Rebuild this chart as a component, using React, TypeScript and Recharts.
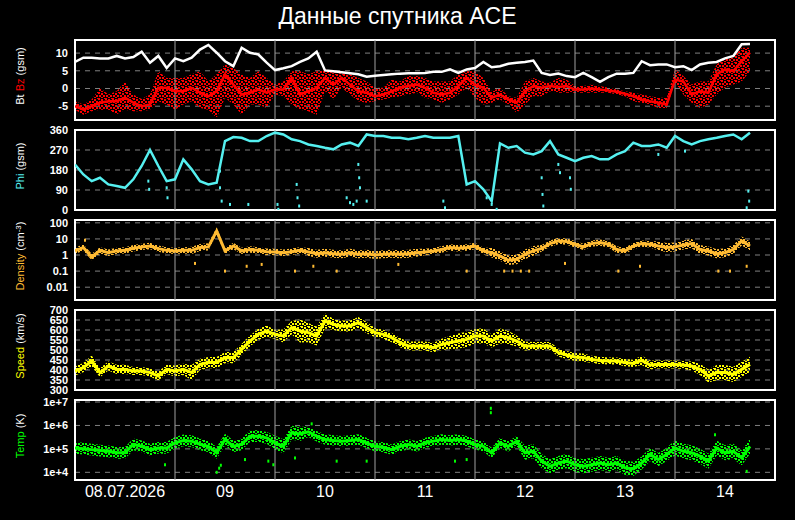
import React from 'react';
import {
  ComposedChart,
  Line,
  Area,
  Scatter,
  XAxis,
  YAxis,
  CartesianGrid,
  ReferenceLine,
  ReferenceArea,
} from 'recharts';

// ---------- time axis (hours since 08.07.2026 00:00) ----------
const hours = [
  0, 2, 4, 6, 8, 10, 12, 14, 16, 18, 20, 22, 24, 26, 28, 30, 32, 34, 36, 38, 40,
  42, 44, 46, 48, 50, 52, 54, 56, 58, 60, 62, 64, 66, 68, 70, 72, 74, 76, 78, 80,
  82, 84, 86, 88, 90, 92, 94, 96, 98, 100, 102, 104, 106, 108, 110, 112, 114,
  116, 118, 120, 122, 124, 126, 128, 130, 132, 134, 136, 138, 140, 142, 144, 146,
  148, 150, 152, 154, 156, 158, 160, 162,
];
const dayLineHours = [24, 48, 72, 96, 120, 144];
const dayTickHours = [12, 36, 60, 84, 108, 132, 156];
const dayLabels = ['08.07.2026', '09', '10', '11', '12', '13', '14'];

// ---------- magnetic field (nT) ----------
const btValues = [
  7.5, 8.7, 8.7, 8.5, 8.5, 9.2, 8.5, 8.9, 10.4, 7.3, 9.2, 5.8, 8.5, 7.7, 8.7, 11.0,
  12.3, 10.1, 7.7, 6.3, 11.5, 10.1, 9.6, 7.3, 5.2, 5.7, 6.3, 7.5, 8.5, 10.4, 5.1,
  4.9, 4.6, 4.3, 4.0, 3.3, 3.6, 3.8, 4.0, 4.2, 4.3, 4.3,
  4.4, 4.7, 4.7, 5.4, 4.4, 5.4, 5.8, 7.5, 6.0, 6.3, 7.0, 7.3, 7.5, 7.9, 4.4, 3.8,
  4.2, 3.5, 3.2, 4.4, 3.2, 1.9, 3.2, 4.2, 4.2, 4.4, 7.7, 6.6, 6.8, 6.8, 6.0, 6.3,
  5.2, 6.8, 7.3, 7.5, 8.5, 9.2, 12.5, 12.6,
];
const bzValues = [
  -5, -6, -5, -4, -3.6, -3.6, -2.6, -4, -5, -4.5, 0.2, 0.2, -0.8, -0.8, 0.2, -1.2,
  -2.2, -0.8, 4, 1.1, -1.7, -1.2, -0.3, -1.2, -0.3, -0.3, 3, -1.7, -0.8, 0.2, 3,
  1.1, 3, 1.1, -0.8, -1.2, -2.2, -1.7, -0.8, 0.2, 0.7, 1.1,
  0.2, -1.2, -1.7, -1.2, 0.7, 3, 1.1, 0.2, -2.6, -1.7, -3.1, -4, -0.8, 0.7, 0.2,
  0.7, 0.4, 0.7, -0.3, -0.3, 0, -0.3, -0.6, -0.9, -1.5, -2.2, -3.1, -3.6, -4, -4.5,
  2.5, 2, -1.7, -0.8, -1.2, 4, 5.4, 4.9, 7.7, 10.1,
];
const bzLow = [
  -6, -7.4, -6.4, -6, -6, -7.3, -6, -6.4, -6.4, -6, -3.6, -4.5, -6, -4.5, -3.6,
  -5.5, -6, -8.3, -2.6, -4.5, -7.4, -4.5, -4.5, -5.5, -1.7, -2.2, -4.5, -6, -6.4,
  -7.4, -0.8, -3.1, 0.2, -1.7, -3.6, -4, -3.6, -3.1, -2.6, -2.2, -1.7, -1.2,
  -2.6, -3.1, -4, -3.1, -1.7, 0.2, -2.6, -4.5, -4, -3.1, -4.5, -6.9, -4.5, -2.2,
  -2.2, -0.8, -1.2, -1.2, -1.2, -1.2, -1.2, -1.2, -1.2, -1.7, -2.2, -3.6, -4, -4.5,
  -5.5, -5.5, 1.6, -1.7, -4, -5.5, -4.5, -1.7, 0.2, 1.1, 2, 4.9,
];
const bzHigh = [
  -3.6, -4.5, -3.1, 0.2, -1.7, -0.8, 2, -1.7, -3, -1.7, 4.9, 3, 3, 3, 4, 4.9, 2, 4,
  6.8, 5.8, 4, 3, 4.9, 3, 1.1, 2, 4.9, 4.9, 4, 4.9, 5.4, 4.9, 4.9, 4, 3, 2, 0.2,
  0.2, 2.5, 2, 3.5, 3.5,
  3, 2, 2, 2, 4, 4.9, 4.9, 3, -0.8, 0.2, -2.2, -2.6, 2, 3, 2, 1.6, 3, 2.5, 0.7, 0.7,
  1.1, 0.7, 0.2, -0.3, -0.8, -1.2, -1.7, -2.2, -2.6, -2.6, 5.4, 3.5, 1.1, 2, 2, 6.8,
  8.7, 8.7, 11.5, 11.5,
];

// ---------- Phi (deg) ----------
const phiValues = [
  205, 160, 130, 145, 115, 108, 100, 138, 198, 270, 198, 130, 138, 228, 183, 130,
  115, 123, 310, 328, 325, 310, 310, 333, 348, 340, 318, 310, 295, 288, 280, 273,
  295, 303, 288, 340, 333, 333, 325, 325, 318, 325,
  333, 325, 325, 325, 333, 115, 130, 93, 40, 300, 280, 288, 258, 250, 265, 310,
  250, 235, 220, 235, 243, 228, 228, 250, 265, 303, 288, 288, 295, 280, 333, 310,
  295, 310, 318, 325, 333, 340, 318, 348,
];
const phiStrayHours = [
  17.6, 17.8, 22, 22.2, 34.8, 34.8, 35.2, 37.2, 41.6, 48.6, 48.8, 53.2, 53.4, 53.8,
  65.2, 66, 66.8, 67.6, 68, 68.2, 68.4, 70, 88.4, 88.8, 98.8, 100, 101.2, 112,
  112.2, 112.4, 116, 116.4, 118.8, 119, 140, 146.4, 161.2, 161.6, 161.8,
];
const phiStrayValues = [
  130, 93, 100, 55, 175, 100, 40, 25, 25, 25, 3, 115, 55, 18, 55, 33, 25, 40, 205,
  145, 100, 40, 40, 10, 55, 25, 3, 145, 70, 18, 205, 168, 145, 93, 250, 265, 10,
  85, 40,
];

// ---------- Density (cm^-3) ----------
const densityValues = [
  1.8, 2.9, 0.75, 1.95, 1.4, 1.8, 1.95, 2.6, 3.2, 3.6, 2.5, 1.95, 1.8, 1.95, 1.95,
  2.9, 3.2, 31, 1.8, 3.6, 1.8, 2.2, 1.95, 1.6, 1.55, 1.4, 1.6, 1.95, 1.55, 1.2,
  1.4, 1.2, 1.1, 1.4, 1.1, 1.2, 1.0, 1.1, 1.2, 1.1, 1.2, 1.4,
  1.55, 1.8, 2.2, 2.9, 2.6, 2.9, 3.6, 1.8, 1.4, 0.87, 0.47, 0.54, 1.1, 1.8, 2.6,
  5.1, 7.5, 6.8, 4.7, 3.2, 5.1, 5.9, 4.7, 2.2, 1.8, 3.6, 5.1, 4.7, 3.6, 2.9, 3.2,
  4.2, 5.1, 2.2, 1.8, 1.2, 1.4, 2.2, 7.5, 3.6,
];
// half-width of the point cloud, in decades
const densitySpread = [
  0.2, 0.2, 0.2, 0.2, 0.2, 0.2, 0.2, 0.2, 0.2, 0.2, 0.2, 0.2, 0.2, 0.2,
  0.22, 0.22, 0.22, 0.22,
  0.2, 0.2, 0.2, 0.2, 0.2, 0.2, 0.2, 0.2, 0.2, 0.2,
  0.25, 0.25, 0.25, 0.25, 0.25, 0.25, 0.25, 0.25, 0.25, 0.25, 0.25, 0.25, 0.25, 0.25,
  0.2, 0.2, 0.2, 0.2, 0.2, 0.2, 0.2, 0.2,
  0.3, 0.3, 0.3, 0.3, 0.3, 0.3,
  0.2, 0.2, 0.2, 0.2, 0.2, 0.2, 0.2, 0.2, 0.2, 0.2, 0.2, 0.2, 0.2, 0.2,
  0.28, 0.28, 0.28, 0.28, 0.28, 0.28, 0.28, 0.28, 0.28, 0.28, 0.28, 0.28,
];
const densityStrayHours = [
  2.4, 28.8, 36, 41.2, 44.8, 52.8, 57.2, 62.8, 77.6, 94, 103, 105, 107, 109, 117.6,
  130.4, 135.6, 154.4, 157.2, 161.2,
];
const densityStrayValues = [
  8.3, 0.3, 0.1, 0.2, 0.26, 0.1, 0.2, 0.1, 0.26, 0.1, 0.1, 0.1, 0.1, 0.1, 0.3, 0.1,
  0.2, 0.1, 0.1, 0.2,
];

// ---------- Speed (km/s) ----------
const speedValues = [
  395, 412, 445, 387, 420, 403, 403, 395, 395, 387, 370, 403, 395, 403, 387, 428,
  437, 437, 462, 462, 503, 545, 578, 595, 578, 570, 612, 595, 587, 570, 645, 628,
  620, 620, 637, 612, 587, 578, 562, 537, 520, 520,
  520, 512, 528, 537, 545, 553, 570, 570, 545, 570, 562, 545, 520, 520, 520, 520,
  487, 475, 465, 462, 453, 448, 445, 445, 437, 433, 448, 425, 428, 428, 428, 425,
  420, 403, 370, 387, 387, 378, 403, 428,
];
// half-width of the point cloud, km/s
const speedSpread = [
  23, 23, 28, 23, 23, 23, 23, 20, 20, 20, 23, 23, 28, 28, 38, 28, 28, 28, 28, 28,
  28, 28, 28, 28, 23, 33, 33, 58, 48, 48, 38, 28, 28, 28, 28, 28, 23, 23, 23, 23,
  23, 23,
  23, 23, 28, 33, 38, 38, 38, 38, 33, 38, 33, 28, 23, 20, 20, 20, 20, 20, 20, 20,
  18, 18, 18, 18, 18, 18, 23, 23, 20, 20, 20, 20, 23, 28, 33, 38, 38, 38, 38, 38,
];

// ---------- Temperature (K) ----------
const tempValues = [
  110000, 102000, 93000, 85000, 79000, 68000, 68000, 155000, 129000, 93000,
  110000, 110000, 182000, 229000, 214000, 155000, 129000, 68000, 251000, 129000,
  155000, 347000, 347000, 295000, 182000, 129000, 490000, 437000, 537000, 347000,
  251000, 229000, 214000, 229000, 251000, 182000, 129000, 117000, 93000, 129000,
  155000, 129000,
  182000, 214000, 251000, 229000, 251000, 214000, 155000, 129000, 68000, 182000,
  129000, 214000, 68000, 79000, 30000, 18000, 25000, 30000, 21000, 18000, 21000,
  25000, 21000, 25000, 15500, 14000, 25000, 58000, 35000, 58000, 110000, 79000,
  68000, 49000, 30000, 110000, 68000, 79000, 41000, 129000,
];
// half-width of the point cloud, in decades
const tempSpread = [
  0.25, 0.25, 0.25, 0.25, 0.25, 0.25, 0.25, 0.25, 0.25, 0.25, 0.25, 0.25, 0.25,
  0.25, 0.25, 0.25, 0.25, 0.25, 0.25, 0.25, 0.25, 0.25, 0.25, 0.25,
  0.3, 0.3, 0.3, 0.3,
  0.22, 0.22, 0.22, 0.22, 0.22, 0.22, 0.22, 0.22, 0.22, 0.22, 0.22, 0.22, 0.22, 0.22,
  0.22, 0.22, 0.22, 0.22, 0.22, 0.22, 0.22, 0.22, 0.22, 0.22, 0.22, 0.22,
  0.3, 0.3, 0.3, 0.3, 0.3, 0.3, 0.3, 0.3, 0.3, 0.3, 0.3, 0.3, 0.3, 0.3,
  0.28, 0.28, 0.28, 0.28,
  0.32, 0.32, 0.32, 0.32, 0.32, 0.32, 0.32, 0.32, 0.32, 0.32,
];
const tempStrayHours = [
  21.6, 34, 34.6, 35, 40.8, 46.4, 47.6, 52.8, 56.8, 62.8, 70, 91.2, 94, 99.8, 99.8,
  153.6, 161.2,
];
const tempStrayValues = [
  21000, 10000, 15000, 20000, 35000, 30000, 21000, 41000, 1170000, 30000, 30000,
  30000, 35000, 5400000, 3500000, 400000, 11000,
];

// ---------- axes ----------
const bTicks = [-5, 0, 5, 10];
const phiTicks = [0, 90, 180, 270, 360];
const densityTicks = [0.01, 0.1, 1, 10, 100];
const densityTickLabels = ['0.01', '0.1', '1', '10', '100'];
const speedTicks = [300, 350, 400, 450, 500, 550, 600, 650, 700];
const tempTicks = [1e4, 1e5, 1e6, 1e7];
const tempTickLabels = ['1e+4', '1e+5', '1e+6', '1e+7'];

// ---------- styling ----------
const WHITE = '#ffffff';
const RED = '#ff0000';
const CYAN = '#55f0f0';
const ORANGE = '#ffbb33';
const YELLOW = '#ffff00';
const GREEN = '#00ff00';
const FONT = '"Liberation Sans", Arial, Helvetica, sans-serif';

const W = 795;
const PLOT_H = 80;
const PAD = 8;

const rows = hours.map((h, i) => ({
  h,
  bt: btValues[i],
  bz: bzValues[i],
  bzBand: [bzLow[i], bzHigh[i]],
  phi: phiValues[i],
  dens: densityValues[i],
  densBand: [
    densityValues[i] / Math.pow(10, densitySpread[i]),
    densityValues[i] * Math.pow(10, densitySpread[i]),
  ],
  speed: speedValues[i],
  speedBand: [speedValues[i] - speedSpread[i], speedValues[i] + speedSpread[i]],
  temp: tempValues[i],
  tempBand: [
    tempValues[i] / Math.pow(10, tempSpread[i]),
    tempValues[i] * Math.pow(10, tempSpread[i]),
  ],
}));

const phiStrays = phiStrayHours.map((h, i) => ({ h, v: phiStrayValues[i] }));
const densityStrays = densityStrayHours.map((h, i) => ({ h, v: densityStrayValues[i] }));
const tempStrays = tempStrayHours.map((h, i) => ({ h, v: tempStrayValues[i] }));

const dotShape = (color: string) => (props: any) => {
  const { cx, cy } = props;
  if (cx == null || cy == null) return <g />;
  return <rect x={cx - 1} y={cy - 1.5} width={2} height={3} fill={color} />;
};

// irregular dotted fill that imitates a cloud of measurement points
const DotPattern = ({ id, color }: { id: string; color: string }) => (
  <defs>
    <pattern id={id} width={7} height={6} patternUnits="userSpaceOnUse">
      <rect x={0} y={0} width={2} height={2} fill={color} />
      <rect x={3} y={1} width={2} height={2} fill={color} />
      <rect x={5} y={3} width={2} height={2} fill={color} />
      <rect x={1} y={3} width={2} height={2} fill={color} />
      <rect x={3} y={5} width={2} height={1} fill={color} />
      <rect x={6} y={0} width={1} height={1} fill={color} />
    </pattern>
  </defs>
);

type LabelPart = { t: string; c: string; sup?: boolean };

const AxisLabel = (props: any) => {
  const parts: LabelPart[] = props.parts;
  const cx = 24;
  const cy = PAD + 36;
  return (
    <text
      x={cx}
      y={cy}
      transform={`rotate(-90 ${cx} ${cy})`}
      textAnchor="middle"
      fontSize={11}
      fontFamily={FONT}
    >
      {parts.map((p, i) => (
        <tspan
          key={i}
          fill={p.c}
          fontSize={p.sup ? 8 : 11}
          dy={p.sup ? -3 : i > 0 && parts[i - 1].sup ? 3 : 0}
        >
          {p.t}
        </tspan>
      ))}
    </text>
  );
};

type PanelProps = {
  top: number;
  domain: [number, number];
  ticks: number[];
  tickLabels?: string[];
  log?: boolean;
  label: LabelPart[];
  showX?: boolean;
  children: React.ReactNode;
};

function Panel({ top, domain, ticks, tickLabels, log, label, showX, children }: PanelProps) {
  const xAxisH = showX ? 30 : 0;
  const height = PLOT_H + PAD * 2 + xAxisH;
  return (
    <div style={{ position: 'absolute', left: 0, top: top - PAD }}>
      <ComposedChart
        width={W}
        height={height}
        data={rows}
        margin={{ top: PAD, right: 20, bottom: PAD, left: 0 }}
      >
        <CartesianGrid vertical={false} stroke="#808080" strokeDasharray="5 5" />
        <XAxis
          dataKey="h"
          type="number"
          domain={[0, 168]}
          allowDataOverflow
          hide={!showX}
          height={xAxisH}
          ticks={dayTickHours}
          interval={0}
          tickFormatter={(v: number) => dayLabels[dayTickHours.indexOf(v)] ?? ''}
          axisLine={false}
          tickLine={false}
          tickSize={0}
          tickMargin={6}
          tick={{ fill: WHITE, fontSize: 16, fontFamily: FONT }}
        />
        <YAxis
          type="number"
          scale={log ? 'log' : 'linear'}
          domain={domain}
          allowDataOverflow
          ticks={ticks}
          interval={0}
          width={75}
          axisLine={false}
          tickLine={false}
          tickSize={0}
          tickMargin={7}
          tick={{ fill: WHITE, fontSize: 11, fontWeight: 'bold', fontFamily: FONT }}
          tickFormatter={(v: number) => {
            if (tickLabels) {
              const idx = ticks.indexOf(v);
              if (idx >= 0) return tickLabels[idx];
            }
            return String(v);
          }}
          label={<AxisLabel parts={label} />}
        />
        {dayLineHours.map((h) => (
          <ReferenceLine key={h} x={h} stroke="#a0a0a0" strokeWidth={1} />
        ))}
        {children}
        <ReferenceArea
          x1={0}
          x2={168}
          y1={domain[0]}
          y2={domain[1]}
          fill="none"
          fillOpacity={0}
          stroke={WHITE}
          strokeWidth={2}
          ifOverflow="visible"
        />
      </ComposedChart>
    </div>
  );
}

export default function App() {
  return (
    <div
      style={{
        position: 'fixed',
        left: 0,
        top: 0,
        width: W,
        height: 520,
        background: '#000',
        fontFamily: FONT,
        overflow: 'hidden',
      }}
    >
      <div
        style={{
          position: 'absolute',
          top: 3,
          left: 0,
          width: W,
          textAlign: 'center',
          color: WHITE,
          fontSize: 23,
        }}
      >
        Данные спутника ACE
      </div>

      <Panel
        top={40}
        domain={[-8.9, 13.7]}
        ticks={bTicks}
        label={[
          { t: 'Bt ', c: WHITE },
          { t: 'Bz', c: RED },
          { t: ' (gsm)', c: WHITE },
        ]}
      >
        <DotPattern id="dots-red" color={RED} />
        <Line
          dataKey="bt"
          stroke={WHITE}
          strokeWidth={2.5}
          dot={false}
          activeDot={false}
          isAnimationActive={false}
        />
        <Area
          dataKey="bzBand"
          stroke="none"
          fill="url(#dots-red)"
          fillOpacity={1}
          activeDot={false}
          isAnimationActive={false}
        />
        <Line
          dataKey="bz"
          stroke={RED}
          strokeWidth={2.5}
          dot={false}
          activeDot={false}
          isAnimationActive={false}
        />
      </Panel>

      <Panel
        top={130}
        domain={[0, 360]}
        ticks={phiTicks}
        label={[
          { t: 'Phi', c: CYAN },
          { t: ' (gsm)', c: WHITE },
        ]}
      >
        <Line
          dataKey="phi"
          stroke={CYAN}
          strokeWidth={2.5}
          dot={false}
          activeDot={false}
          isAnimationActive={false}
        />
        <Scatter
          data={phiStrays}
          dataKey="v"
          fill={CYAN}
          shape={dotShape(CYAN)}
          isAnimationActive={false}
        />
      </Panel>

      <Panel
        top={220}
        domain={[0.0016, 150]}
        ticks={densityTicks}
        tickLabels={densityTickLabels}
        log
        label={[
          { t: 'Density', c: ORANGE },
          { t: ' (cm', c: WHITE },
          { t: '-3', c: WHITE, sup: true },
          { t: ')', c: WHITE },
        ]}
      >
        <DotPattern id="dots-orange" color={ORANGE} />
        <Area
          dataKey="densBand"
          stroke="none"
          fill="url(#dots-orange)"
          fillOpacity={1}
          activeDot={false}
          isAnimationActive={false}
        />
        <Line
          dataKey="dens"
          stroke={ORANGE}
          strokeWidth={3}
          dot={false}
          activeDot={false}
          isAnimationActive={false}
        />
        <Scatter
          data={densityStrays}
          dataKey="v"
          fill={ORANGE}
          shape={dotShape(ORANGE)}
          isAnimationActive={false}
        />
      </Panel>

      <Panel
        top={310}
        domain={[300, 700]}
        ticks={speedTicks}
        label={[
          { t: 'Speed', c: YELLOW },
          { t: ' (km/s)', c: WHITE },
        ]}
      >
        <DotPattern id="dots-yellow" color={YELLOW} />
        <Area
          dataKey="speedBand"
          stroke="none"
          fill="url(#dots-yellow)"
          fillOpacity={1}
          activeDot={false}
          isAnimationActive={false}
        />
        <Line
          dataKey="speed"
          stroke={YELLOW}
          strokeWidth={3}
          dot={false}
          activeDot={false}
          isAnimationActive={false}
        />
      </Panel>

      <Panel
        top={400}
        domain={[4700, 12200000]}
        ticks={tempTicks}
        tickLabels={tempTickLabels}
        log
        showX
        label={[
          { t: 'Temp', c: GREEN },
          { t: ' (K)', c: WHITE },
        ]}
      >
        <DotPattern id="dots-green" color={GREEN} />
        <Area
          dataKey="tempBand"
          stroke="none"
          fill="url(#dots-green)"
          fillOpacity={1}
          activeDot={false}
          isAnimationActive={false}
        />
        <Line
          dataKey="temp"
          stroke={GREEN}
          strokeWidth={3}
          dot={false}
          activeDot={false}
          isAnimationActive={false}
        />
        <Scatter
          data={tempStrays}
          dataKey="v"
          fill={GREEN}
          shape={dotShape(GREEN)}
          isAnimationActive={false}
        />
      </Panel>
    </div>
  );
}
